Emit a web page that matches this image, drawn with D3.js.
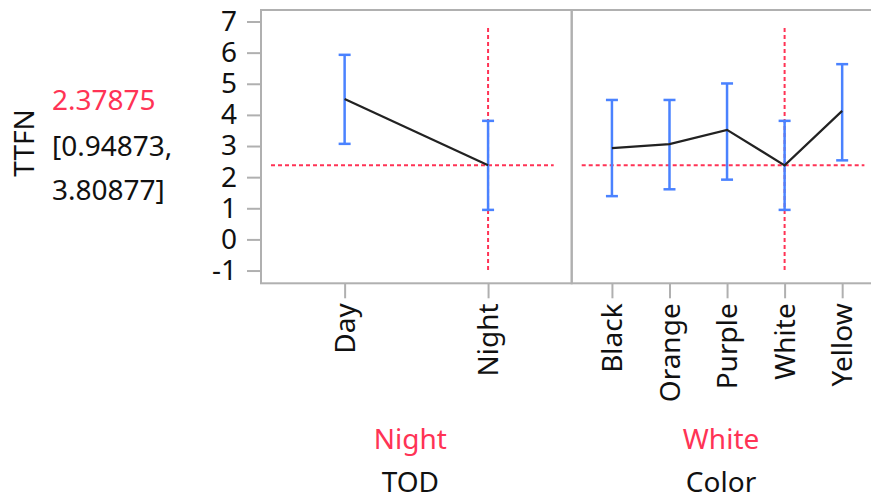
<!DOCTYPE html>
<html>
<head>
<meta charset="utf-8">
<script src="https://cdn.jsdelivr.net/npm/d3@7"></script>
<style>
  html, body { margin: 0; padding: 0; background: #fff; }
  svg { display: block; }
  text { font-family: "Noto Sans", "Open Sans", sans-serif; }
</style>
</head>
<body>
<svg id="chart" width="871" height="499"></svg>
<script>
// ---- data ----
const responseName = "TTFN";
const predictedValue = 2.37875;
const ciLower = 0.94873;
const ciUpper = 3.80877;

const todLevels = ["Day", "Night"];
const todMean   = [4.51, 2.37875];
const todLower  = [3.07, 0.94873];
const todUpper  = [5.93, 3.80877];
const todCurrent = "Night";

const colorLevels = ["Black", "Orange", "Purple", "White", "Yellow"];
const colorMean   = [2.93, 3.06, 3.52, 2.37875, 4.13];
const colorLower  = [1.39, 1.61, 1.92, 0.94873, 2.54];
const colorUpper  = [4.48, 4.48, 5.01, 3.80877, 5.63];
const colorCurrent = "White";

const yTicks = [-1, 0, 1, 2, 3, 4, 5, 6, 7];
const factorNames = ["TOD", "Color"];

// ---- layout ----
const svg = d3.select("#chart");
const topY = 10, botY = 283.3;
const panelW = 310.7;
const leftX0 = 261;
const RED = "#ff3355", BLUE = "#4a82ff", FRAME = "#b0b0b0";
const FS = 28;

const y = d3.scaleLinear().domain([-1.41, 7.37]).range([botY, topY]);

const panels = [
  { levels: todLevels, mean: todMean, lo: todLower, hi: todUpper, current: todCurrent,
    x0: leftX0, padding: 0.583, name: factorNames[0] },
  { levels: colorLevels, mean: colorMean, lo: colorLower, hi: colorUpper, current: colorCurrent,
    x0: leftX0 + panelW, padding: 0.699, name: factorNames[1] }
];

// y axis
const yAxis = svg.append("g")
  .attr("transform", `translate(${leftX0},0)`)
  .call(d3.axisLeft(y).tickValues(yTicks).tickSize(14).tickPadding(10).tickFormat(d => String(d)));
yAxis.select(".domain").remove();
yAxis.selectAll(".tick line").attr("stroke", FRAME).attr("stroke-width", 2);
yAxis.selectAll(".tick text").attr("font-size", FS).attr("fill", "#111")
  .style("font-family", '"Noto Sans", sans-serif');

panels.forEach(p => {
  const x1 = p.x0 + panelW;
  const x = d3.scalePoint().domain(p.levels).range([p.x0, x1]).padding(p.padding);
  const g = svg.append("g");

  // frame
  g.append("rect").attr("x", p.x0).attr("y", topY).attr("width", panelW).attr("height", botY - topY)
    .attr("fill", "none").attr("stroke", FRAME).attr("stroke-width", 2);

  // x axis
  const xa = svg.append("g").attr("transform", `translate(0,${botY})`)
    .call(d3.axisBottom(x).tickSize(15));
  xa.select(".domain").remove();
  xa.selectAll(".tick line").attr("stroke", FRAME).attr("stroke-width", 2);
  xa.selectAll(".tick text")
    .attr("transform", "rotate(-90)")
    .attr("x", -20).attr("y", 0).attr("dy", "0.35em")
    .attr("text-anchor", "end")
    .attr("font-size", FS).attr("fill", "#111")
    .style("font-family", '"Noto Sans", sans-serif');

  // reference lines
  const yc = y(predictedValue);
  const xc = x(p.current);
  g.append("line").attr("x1", p.x0 + 10).attr("x2", x1 - 18).attr("y1", yc).attr("y2", yc)
    .attr("stroke", RED).attr("stroke-width", 2).attr("stroke-dasharray", "4,3");
  g.append("line").attr("x1", xc).attr("x2", xc).attr("y1", topY + 18).attr("y2", botY - 11.5)
    .attr("stroke", RED).attr("stroke-width", 2).attr("stroke-dasharray", "4,3");

  // error bars
  p.levels.forEach((lv, i) => {
    const cx = x(lv);
    g.append("line").attr("x1", cx).attr("x2", cx).attr("y1", y(p.lo[i])).attr("y2", y(p.hi[i]))
      .attr("stroke", BLUE).attr("stroke-width", 2.5);
    [p.lo[i], p.hi[i]].forEach(v => {
      g.append("line").attr("x1", cx - 6).attr("x2", cx + 6).attr("y1", y(v)).attr("y2", y(v))
        .attr("stroke", BLUE).attr("stroke-width", 2.5);
    });
  });

  // mean line
  g.append("path")
    .datum(p.levels.map((lv, i) => [x(lv), y(p.mean[i])]))
    .attr("d", d3.line())
    .attr("fill", "none").attr("stroke", "#222").attr("stroke-width", 2.2);

  // bottom labels
  const cx = p.x0 + panelW / 2 - 6;
  svg.append("text").attr("x", cx).attr("y", 449).attr("text-anchor", "middle")
    .attr("font-size", FS).attr("fill", RED).text(p.current);
  svg.append("text").attr("x", cx).attr("y", 492).attr("text-anchor", "middle")
    .attr("font-size", FS).attr("fill", "#111").text(p.name);
});

// left labels
svg.append("text").attr("transform", "translate(34,143) rotate(-90)")
  .attr("text-anchor", "middle").attr("font-size", FS).attr("fill", "#111").text(responseName);
svg.append("text").attr("x", 52).attr("y", 110).attr("font-size", FS).attr("fill", RED)
  .text(d3.format(".5f")(predictedValue));
svg.append("text").attr("x", 52).attr("y", 156).attr("font-size", FS).attr("fill", "#111")
  .text("[" + d3.format(".5f")(ciLower) + ",");
svg.append("text").attr("x", 52).attr("y", 200).attr("font-size", FS).attr("fill", "#111")
  .text(d3.format(".5f")(ciUpper) + "]");
</script>
</body>
</html>
